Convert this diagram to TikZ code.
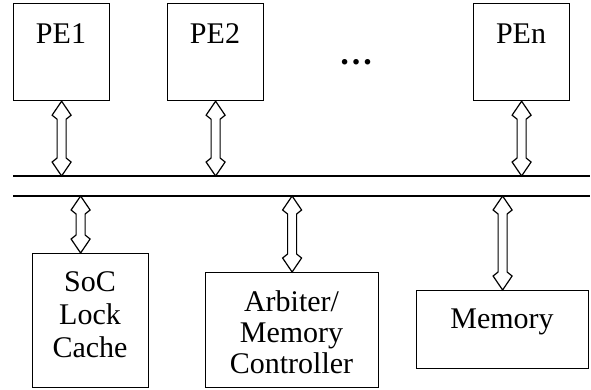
\documentclass[tikz,border=0pt]{standalone}
\usepackage{fontspec}
\setmainfont{Liberation Serif}
\usetikzlibrary{calc}
\begin{document}
\begin{tikzpicture}[x=1pt,y=-1pt,line width=1.2pt,
  box/.style={draw,rectangle,inner sep=0pt,anchor=north west},
  lbl/.style={anchor=base,inner sep=0pt,font=\fontsize{30}{34}\selectfont},
  dblarrow/.style={fill=white,line join=miter,
    to path={let \p1=(\tikztostart), \p2=(\tikztotarget) in
      (\x1,\y1) -- (\x1+9.5pt,\y1-14pt) -- (\x1+4.5pt,\y1-18pt)
      -- (\x1+4.5pt,\y2+18pt) -- (\x1+9.5pt,\y2+14pt) -- (\x1,\y2)
      -- (\x1-9.5pt,\y2+14pt) -- (\x1-4.5pt,\y2+18pt)
      -- (\x1-4.5pt,\y1-18pt) -- (\x1-9.5pt,\y1-14pt) -- cycle}}]
\useasboundingbox (0,0) rectangle (591,389);

% processing elements
\node[box,minimum width=96pt,minimum height=97pt] (pe1) at (13,3) {};
\node[box,minimum width=96pt,minimum height=97pt] (pe2) at (167,3) {};
\node[box,minimum width=96pt,minimum height=97pt] (pen) at (473,3) {};
\node[lbl] (pe1t) at (61,43) {PE1};
\node[lbl] (pe2t) at (215,43) {PE2};
\node[lbl] (pent) at (521,43) {PEn};
\node[lbl,font=\fontsize{34}{38}\selectfont] (dots) at (356,64) {\textbf{…}};

% bus
\coordinate (busTL) at (13,176);
\coordinate (busTR) at (590,176);
\coordinate (busBL) at (13,196);
\coordinate (busBR) at (590,196);
\draw (busTL) -- (busTR);
\draw (busBL) -- (busBR);

% lower blocks
\node[box,minimum width=116pt,minimum height=134pt] (soc) at (32,253) {};
\node[box,minimum width=173pt,minimum height=115pt] (arb) at (205,272) {};
\node[box,minimum width=172pt,minimum height=78pt] (mem) at (416,290) {};

\node[lbl] (soc1) at (90,291) {SoC};
\node[lbl] (soc2) at (90,324) {Lock};
\node[lbl] (soc3) at (90,357) {Cache};
\node[lbl] (arb1) at (291.5,311) {Arbiter/};
\node[lbl] (arb2) at (291.5,342) {Memory};
\node[lbl] (arb3) at (291.5,373) {Controller};
\node[lbl] (memt) at (502,328) {Memory};

% connectors
\coordinate (socTop) at ([xshift=-10pt]soc.north);
\draw[dblarrow] (pe1.south) to (pe1.south |- busTL);
\draw[dblarrow] (pe2.south) to (pe2.south |- busTL);
\draw[dblarrow] (pen.south) to (pen.south |- busTL);
\draw[dblarrow] (socTop |- busBL) to (socTop);
\draw[dblarrow] (arb.north |- busBL) to (arb.north);
\draw[dblarrow] (mem.north |- busBL) to (mem.north);
\end{tikzpicture}
\end{document}
